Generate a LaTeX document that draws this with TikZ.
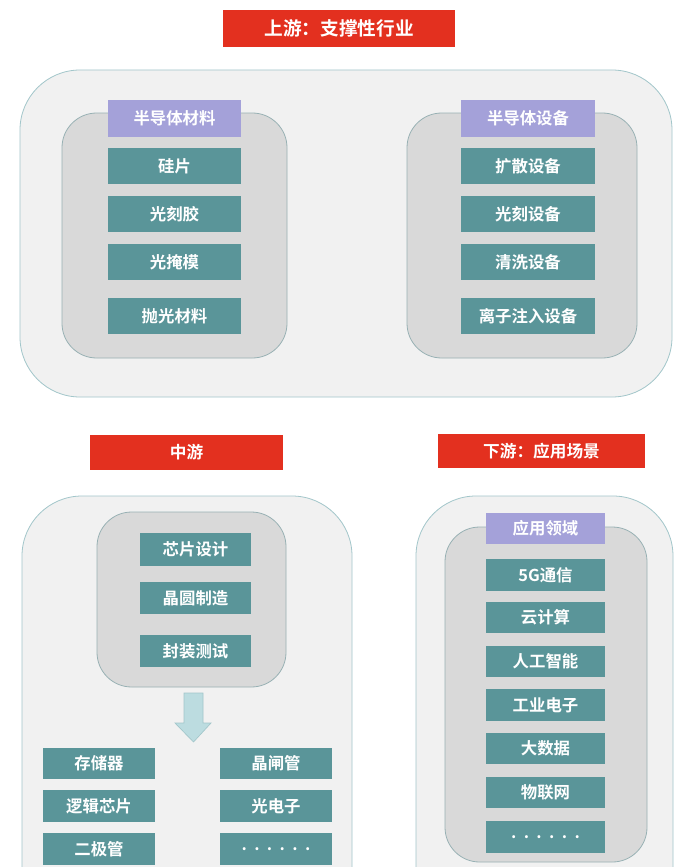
\documentclass[tikz,border=0pt]{standalone}
\usepackage{fontspec}
\newfontfamily\cjk{Noto Sans CJK SC}[BoldFont={Noto Sans CJK SC Bold}]
\definecolor{redc}{HTML}{E3301F}
\definecolor{tealc}{HTML}{5A9599}
\definecolor{lavc}{HTML}{A4A1D9}
\definecolor{outerc}{HTML}{F1F1F1}
\definecolor{innerc}{HTML}{D9D9D9}
\definecolor{edgec}{HTML}{A2C6CA}
\definecolor{arrowc}{HTML}{BCDCE0}
\tikzset{
  titlebox/.style={fill=redc, draw=none, text=white, font=\cjk\bfseries\fontsize{12.5}{14}\selectfont},
  bigtitle/.style={titlebox, font=\cjk\bfseries\fontsize{14}{16}\selectfont},
  itembox/.style={fill=tealc, draw=none, text=white, font=\cjk\bfseries\fontsize{12.3}{14}\selectfont},
  headbox/.style={fill=lavc, draw=none, text=white, font=\cjk\bfseries\fontsize{12.3}{14}\selectfont},
  outerpanel/.style={fill=outerc, draw=edgec, line width=0.6pt},
  innerpanel/.style={fill=innerc, draw=edgec!70!gray, line width=0.6pt},
}
\newcommand{\bx}[7]{%
  \node[#1, inner sep=0pt, anchor=center,
        minimum width={(#5-#3)*0.75pt}, minimum height={(#6-#4)*0.75pt}]
        (#2) at ({(#3+#5)/2},{(#4+#6)/2}) {#7};}
\newcommand{\dotrow}{.\hspace{0.45em}.\hspace{0.45em}.\hspace{0.45em}.\hspace{0.45em}.\hspace{0.45em}.}
\begin{document}
\begin{tikzpicture}[x=0.75pt,y=-0.75pt]
\useasboundingbox (0,0) rectangle (693,867);
\fill[white] (0,0) rectangle (693,867);

% ---------- upstream ----------
\bx{bigtitle}{t1}{223}{10}{455}{47}{上游：支撑性行业}
\draw[outerpanel, rounded corners=45] (20,70) rectangle (672,397);
\draw[innerpanel, rounded corners=26] (62,113) rectangle (287,358);
\draw[innerpanel, rounded corners=26] (407,113) rectangle (637,358);

\bx{headbox}{hm}{108}{100}{241}{137}{半导体材料}
\bx{itembox}{m1}{108}{148}{241}{184}{硅片}
\bx{itembox}{m2}{108}{196}{241}{232}{光刻胶}
\bx{itembox}{m3}{108}{244}{241}{280}{光掩模}
\bx{itembox}{m4}{108}{298}{241}{334}{抛光材料}

\bx{headbox}{he}{461}{100}{595}{137}{半导体设备}
\bx{itembox}{e1}{461}{148}{595}{184}{扩散设备}
\bx{itembox}{e2}{461}{196}{595}{232}{光刻设备}
\bx{itembox}{e3}{461}{244}{595}{280}{清洗设备}
\bx{itembox}{e4}{461}{298}{595}{334}{离子注入设备}

% ---------- midstream ----------
\bx{titlebox}{t2}{90}{435}{283}{470}{中游}
\draw[outerpanel, rounded corners=45] (22,496) rectangle (352,930);
\draw[innerpanel, rounded corners=26] (97,512) rectangle (286,687);
\bx{itembox}{c1}{140}{533}{251}{566}{芯片设计}
\bx{itembox}{c2}{140}{582}{251}{614}{晶圆制造}
\bx{itembox}{c3}{140}{635}{251}{667}{封装测试}

\draw[fill=arrowc, draw=edgec, line width=0.5pt]
  (184,693) -- (203,693) -- (203,723) -- (211,723) -- (193.5,742)
  -- (175,723) -- (184,723) -- cycle;

\bx{itembox}{p1}{43}{748}{155}{779}{存储器}
\bx{itembox}{p2}{43}{790}{155}{822}{逻辑芯片}
\bx{itembox}{p3}{43}{833}{155}{865}{二极管}
\bx{itembox}{p4}{220}{748}{332}{779}{晶闸管}
\bx{itembox}{p5}{220}{790}{332}{822}{光电子}
\bx{itembox}{p6}{220}{833}{332}{865}{\dotrow}

% ---------- downstream ----------
\bx{titlebox}{t3}{438}{434}{645}{468}{下游：应用场景}
\draw[outerpanel, rounded corners=45] (416,496) rectangle (673,930);
\draw[innerpanel, rounded corners=26] (445,527) rectangle (647,862);
\bx{headbox}{ha}{486}{513}{605}{544}{应用领域}
\bx{itembox}{a1}{486}{559}{605}{591}{5G通信}
\bx{itembox}{a2}{486}{602}{605}{633}{云计算}
\bx{itembox}{a3}{486}{646}{605}{677}{人工智能}
\bx{itembox}{a4}{486}{689}{605}{721}{工业电子}
\bx{itembox}{a5}{486}{733}{605}{764}{大数据}
\bx{itembox}{a6}{486}{777}{605}{808}{物联网}
\bx{itembox}{a7}{486}{821}{605}{853}{\dotrow}
\end{tikzpicture}
\end{document}
